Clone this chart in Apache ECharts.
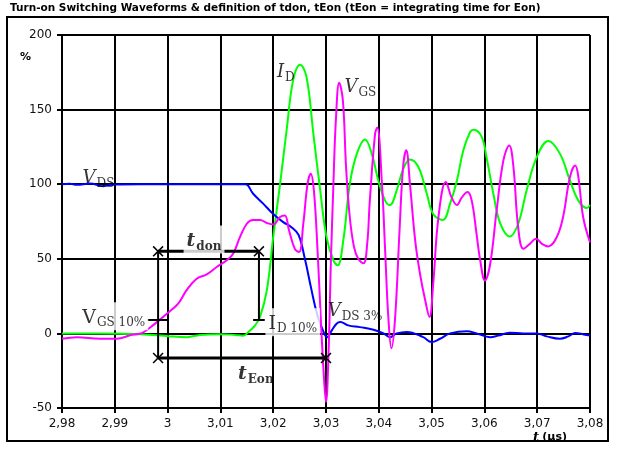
<!DOCTYPE html>
<html>
<head>
<meta charset="utf-8">
<script src="https://cdn.jsdelivr.net/npm/echarts@6/dist/echarts.min.js"></script>
<style>
  html, body { margin: 0; padding: 0; background: #fff; }
  #chart { width: 621px; height: 450px; }
</style>
</head>
<body>
<div id="chart"></div>
<script>
// Time base in microseconds, values in % of the nominal level.

// Drain current I_D
const idTime = [2.9800, 2.9872, 2.9948, 3.0005, 3.0037, 3.0061, 3.0099, 3.0128, 3.0143, 3.0156,
  3.0165, 3.0175, 3.0188, 3.0200, 3.0213, 3.0226, 3.0238, 3.0251, 3.0263, 3.0276,
  3.0289, 3.0301, 3.0314, 3.0322, 3.0333, 3.0345, 3.0358, 3.0374, 3.0387, 3.0399,
  3.0412, 3.0421, 3.0434, 3.0446, 3.0459, 3.0475, 3.0491, 3.0503, 3.0521, 3.0535,
  3.0548, 3.0560, 3.0573, 3.0580, 3.0595, 3.0604, 3.0617, 3.0630, 3.0648, 3.0664,
  3.0680, 3.0699, 3.0721, 3.0743, 3.0762, 3.0778, 3.0794, 3.0800];
const idPct = [0, 0, -0.5, -2, -2.5, -1, -0.5, -1, -1.5, 2,
  5, 11, 29, 64.5, 100, 138, 170, 180, 172, 134,
  96, 64.5, 49, 45.6, 63, 100, 120, 130, 120, 102.5,
  89, 86, 96, 110, 116.6, 111.5, 93.6, 80, 76, 87,
  102.5, 122.6, 135, 136.5, 131.6, 118, 93.6, 73.7, 65, 73.5,
  96, 118, 129, 120.5, 102.5, 89, 84, 86];

// Gate-source voltage V_GS
const vgsTime = [2.9800, 2.9828, 2.9872, 2.9904, 2.9929, 2.9951, 2.9967, 2.9986, 2.9998, 3.0020,
  3.0036, 3.0055, 3.0074, 3.0093, 3.0112, 3.0124, 3.0137, 3.0150, 3.0162, 3.0175,
  3.0188, 3.0200, 3.0213, 3.0222, 3.0230, 3.0241, 3.0249, 3.0257, 3.0265, 3.0271,
  3.0277, 3.0284, 3.0290, 3.0295, 3.0300, 3.0305, 3.0309, 3.0314, 3.0319, 3.0325,
  3.0332, 3.0338, 3.0345, 3.0353, 3.0361, 3.0371, 3.0378, 3.0383, 3.0393, 3.0397,
  3.0406, 3.0412, 3.0418, 3.0424, 3.0431, 3.0439, 3.0446, 3.0452, 3.0459, 3.0469,
  3.0478, 3.0488, 3.0496, 3.0503, 3.0513, 3.0527, 3.0538, 3.0548, 3.0557, 3.0568,
  3.0576, 3.0585, 3.0592, 3.0601, 3.0611, 3.0623, 3.0636, 3.0647, 3.0655, 3.0664,
  3.0674, 3.0686, 3.0698, 3.0709, 3.0721, 3.0737, 3.0749, 3.0762, 3.0772, 3.0778,
  3.0787, 3.0800];
const vgsPct = [-3.6, -2.5, -3.6, -3.6, -1.3, 0.2, 4, 9.4, 13, 20,
  29, 36.6, 39.5, 44.5, 49, 53.4, 64.5, 73.5, 76, 76,
  74, 73, 78, 79, 69, 56.7, 54.5, 73.5, 100, 107,
  96, 55.6, 11, -22.6, -46, -11, 44.5, 100, 145, 168,
  156, 111.5, 78, 58, 50, 47, 60, 89, 134, 138,
  100, 55.6, 11, -10, 11, 67, 111.5, 122.7, 100, 62,
  40, 22, 11, 33, 78, 101.4, 91, 86, 91, 94.7,
  89, 67, 49, 35.5, 46.7, 82, 116, 126, 111.5, 71,
  56.7, 60, 63.5, 60, 58.3, 64.5, 78, 104.8, 112.6, 104.8,
  78, 61];

// Drain-source voltage V_DS
const vdsTime = [2.9800, 2.9815, 2.9828, 2.9853, 2.9878, 2.9900, 2.9948, 3.0023, 3.0099, 3.0147,
  3.0162, 3.0181, 3.0200, 3.0219, 3.0235, 3.0248, 3.0260, 3.0272, 3.0283, 3.0293,
  3.0302, 3.0311, 3.0320, 3.0327, 3.0342, 3.0364, 3.0390, 3.0409, 3.0421, 3.0434,
  3.0453, 3.0484, 3.0500, 3.0516, 3.0535, 3.0567, 3.0585, 3.0611, 3.0626, 3.0648,
  3.0674, 3.0699, 3.0718, 3.0743, 3.0759, 3.0772, 3.0788, 3.0800];
const vdsPct = [100, 100.3, 99.6, 100.4, 98.7, 99.8, 100, 100, 100, 100,
  93.6, 87, 80, 74.6, 71, 66, 50, 30, 13, 3,
  -2.5, 2, 6.5, 7.6, 5.4, 4.2, 2.5, 0, -2.5, 0,
  1, -2.5, -5.8, -3.6, 0, 1.5, 0, -2.5, -1.5, 0.5,
  0, 0, -2, -3.6, -2, 0.2, -0.7, -1.5];

// Switching-time definitions
const tdonStart = 2.9982;   // V_GS passes 10 %
const tdonEnd = 3.0173;     // I_D passes 10 %
const tEonEnd = 3.0300;     // V_DS reaches 3 %
const tdonLevel = 55;
const tEonLevel = -16.5;
const markLevel = 9;
const markHalfWidth = 0.002;

// Axis ranges
const xMin = 2.98, xMax = 3.08, xStep = 0.01;
const yMin = -50, yMax = 200, yStep = 50;

const zip = (t, v) => t.map((x, i) => [x, v[i]]);

const serif = 'DejaVu Serif';
const sans = 'DejaVu Sans';
const cross = 'path://M0,1L1,0L5,4L9,0L10,1L6,5L10,9L9,10L5,6L1,10L0,9L4,5Z';

const tok = (extra) => Object.assign({ fontFamily: serif, color: '#000', textBorderWidth: 0, verticalAlign: 'top' }, extra);
const rich = {
  vi: tok({ fontStyle: 'italic', fontSize: 18, lineHeight: 18 }),
  vn: tok({ fontSize: 19, lineHeight: 18 }),
  sub: tok({ fontSize: 12, lineHeight: 12, padding: [9, 0, 0, 1] }),
  tb: tok({ fontStyle: 'italic', fontWeight: 'bold', fontSize: 19, lineHeight: 18 }),
  tsub: tok({ fontWeight: 'bold', fontSize: 12, lineHeight: 12, padding: [9, 0, 0, 1] })
};

const plainLabel = { show: true, position: 'inside', color: '#000', textBorderWidth: 0, rich: rich };
const boxedLabel = Object.assign({}, plainLabel, { backgroundColor: '#fff', padding: [6, 3, 4, 3] });

const labelPoints = [
  { value: [2.9869, 104], label: Object.assign({ formatter: '{vi|V}{sub|DS}' }, plainLabel) },
  { value: [3.0224, 175], label: Object.assign({ formatter: '{vi|I}{sub|D}' }, plainLabel) },
  { value: [3.0365, 165], label: Object.assign({ formatter: '{vi|V}{sub|GS}' }, plainLabel) },
  { value: [2.9898, 11.5], label: Object.assign({ formatter: '{vn|V}{sub|GS 10%}' }, boxedLabel) },
  { value: [3.0237, 7.5], label: Object.assign({ formatter: '{vn|I}{sub|D 10%}' }, boxedLabel) },
  { value: [3.0355, 15], label: Object.assign({ formatter: '{vi|V}{sub|DS 3%}' }, plainLabel) },
  { value: [3.0069, 63], label: Object.assign({ formatter: '{tb|t}{tsub|don}' }, boxedLabel) },
  { value: [3.0167, -27], label: Object.assign({ formatter: '{tb|t}{tsub|Eon}' }, plainLabel) }
];

const black = '#000';
const axisStyle = { color: black, width: 2 };

function helperLine(data, width, withCross) {
  return {
    type: 'line', data: data, silent: true, animation: false, z: 4,
    lineStyle: { color: black, width: width },
    symbol: withCross ? cross : 'none', symbolSize: 11, showSymbol: !!withCross,
    itemStyle: { color: black }
  };
}

const chart = echarts.init(document.getElementById('chart'), null, { renderer: 'canvas' });
chart.setOption({
  animation: false,
  backgroundColor: '#fff',
  textStyle: { fontFamily: sans },
  grid: { left: 62, right: 31, top: 35, bottom: 42 },
  xAxis: {
    type: 'value', min: xMin, max: xMax, interval: xStep,
    axisLine: { onZero: false, lineStyle: axisStyle },
    axisTick: { show: true, length: 5, lineStyle: axisStyle },
    splitLine: { show: true, lineStyle: axisStyle },
    axisLabel: {
      color: '#111', fontSize: 12, fontFamily: sans, margin: 10,
      formatter: v => String(+v.toFixed(2)).replace('.', ',')
    }
  },
  yAxis: {
    type: 'value', min: yMin, max: yMax, interval: yStep,
    axisLine: { show: true, onZero: false, lineStyle: axisStyle },
    axisTick: { show: true, length: 5, lineStyle: axisStyle },
    splitLine: { show: true, lineStyle: axisStyle },
    axisLabel: { color: '#111', fontSize: 12, fontFamily: sans, margin: 10 }
  },
  graphic: [
    { type: 'rect', shape: { x: 7, y: 17, width: 601, height: 424 }, style: { fill: 'none', stroke: black, lineWidth: 2 }, z: -1 },
    { type: 'text', left: 10, top: 3, style: { text: 'Turn-on Switching Waveforms & definition of tdon, tEon (tEon = integrating time for Eon)', font: 'bold 10.5px "DejaVu Sans"', fill: '#000' } },
    { type: 'text', left: 20, top: 52, style: { text: '%', font: 'bold 11px "DejaVu Sans"', fill: '#000' } },
    { type: 'text', left: 533, top: 431, style: {
      text: '{t|t} {u|(µs)}',
      rich: {
        t: { font: 'italic bold 13px "DejaVu Serif"', fill: '#000' },
        u: { font: 'bold 11px "DejaVu Sans"', fill: '#000' }
      } } }
  ],
  series: [
    { name: 'I_D', type: 'line', data: zip(idTime, idPct), smooth: 0.4, showSymbol: false, z: 3,
      lineStyle: { color: '#00ff00', width: 2 }, itemStyle: { color: '#00ff00' } },
    { name: 'V_DS', type: 'line', data: zip(vdsTime, vdsPct), smooth: 0.4, showSymbol: false, z: 3,
      lineStyle: { color: '#0000ff', width: 2 }, itemStyle: { color: '#0000ff' } },
    { name: 'V_GS', type: 'line', data: zip(vgsTime, vgsPct), smooth: 0.4, showSymbol: false, z: 3,
      lineStyle: { color: '#ff00ff', width: 2 }, itemStyle: { color: '#ff00ff' } },
    helperLine([[tdonStart, tdonLevel], [tdonEnd, tdonLevel]], 3, true),
    helperLine([[tdonStart, tEonLevel], [tEonEnd, tEonLevel]], 3, true),
    helperLine([[tdonStart, tdonLevel], [tdonStart, tEonLevel]], 2, false),
    helperLine([[tdonEnd, tdonLevel], [tdonEnd, markLevel]], 2, false),
    helperLine([[tdonStart - markHalfWidth, markLevel], [tdonStart + markHalfWidth, markLevel]], 2, false),
    helperLine([[tdonEnd - markHalfWidth * 0.55, markLevel], [tdonEnd + markHalfWidth * 0.55, markLevel]], 2, false),
    { type: 'scatter', data: labelPoints, symbolSize: 0, silent: true, z: 6, animation: false }
  ]
});
</script>
</body>
</html>
